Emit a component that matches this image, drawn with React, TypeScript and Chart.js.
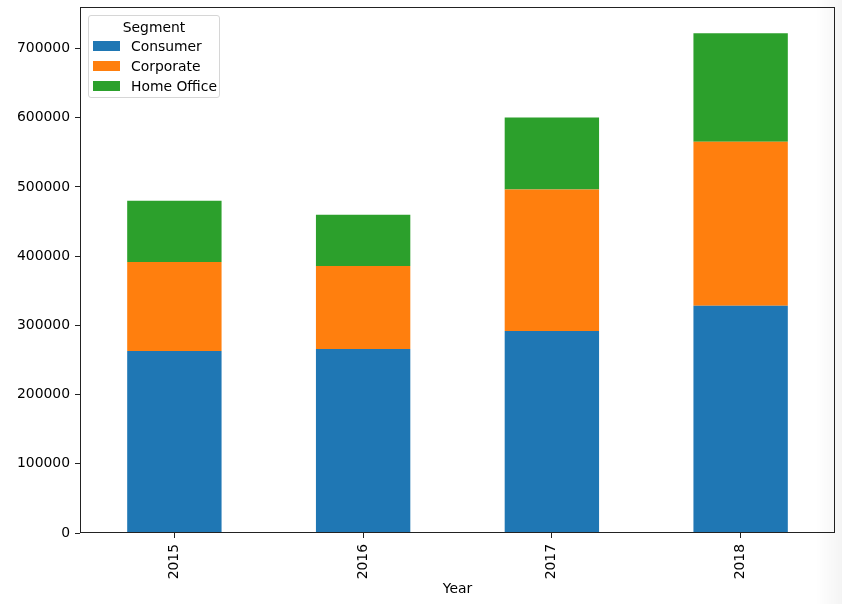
import React, { useEffect, useRef } from "react";
import { Chart, registerables } from "chart.js";

Chart.register(...registerables);

const years = ["2015", "2016", "2017", "2018"];
const segmentNames = ["Consumer", "Corporate", "Home Office"];
const consumer = [262800, 265700, 291700, 328400];
const corporate = [128800, 120100, 204600, 237000];
const homeOffice = [88300, 73900, 103900, 156700];
const segmentColors = ["#1f77b4", "#ff7f0e", "#2ca02c"];
const yTicks = [0, 100000, 200000, 300000, 400000, 500000, 600000, 700000];
const yMax = 760000;
const legendTitle = "Segment";
const xTitle = "Year";

const FONT = "'DejaVu Sans', sans-serif";
const FS = 13.9;

const framePlugin = {
  id: "frame",
  afterDatasetsDraw(chart: any) {
    const { ctx, chartArea } = chart;
    ctx.save();
    ctx.strokeStyle = "#222";
    ctx.lineWidth = 1;
    ctx.strokeRect(
      chartArea.left + 0.5,
      chartArea.top + 0.5,
      chartArea.right - chartArea.left - 1,
      chartArea.bottom - chartArea.top - 1
    );
    ctx.restore();
  },
};

export default function App() {
  const ref = useRef<HTMLCanvasElement | null>(null);

  useEffect(() => {
    if (!ref.current) return;
    const series = [consumer, corporate, homeOffice];
    const chart = new Chart(ref.current, {
      type: "bar",
      data: {
        labels: years,
        datasets: series.map((d, i) => ({
          label: segmentNames[i],
          data: d,
          backgroundColor: segmentColors[i],
          borderWidth: 0,
          categoryPercentage: 1,
          barPercentage: 0.5,
        })),
      },
      options: {
        responsive: false,
        animation: false,
        devicePixelRatio: 1,
        layout: { padding: { left: 0, top: 7, right: 7, bottom: 0 } },
        plugins: {
          legend: { display: false },
          tooltip: { enabled: false },
          title: { display: false },
        },
        scales: {
          x: {
            stacked: true,
            offset: true,
            border: { display: false },
            grid: {
              offset: false,
              drawOnChartArea: false,
              drawTicks: true,
              tickLength: 5,
              color: "#222",
              lineWidth: 1,
            },
            ticks: {
              minRotation: 90,
              maxRotation: 90,
              padding: 6,
              color: "#000",
              font: { family: FONT, size: FS },
            },
            title: {
              display: true,
              text: xTitle,
              color: "#000",
              font: { family: FONT, size: FS },
              padding: { top: 0, bottom: 6 },
            },
            afterFit(scale: any) {
              scale.height = 71;
              scale.paddingLeft = 0;
              scale.paddingRight = 0;
            },
          },
          y: {
            stacked: true,
            min: 0,
            max: yMax,
            border: { display: false },
            grid: {
              drawOnChartArea: false,
              drawTicks: true,
              tickLength: 5,
              color: "#222",
              lineWidth: 1,
            },
            ticks: {
              stepSize: 100000,
              padding: 5,
              color: "#000",
              font: { family: FONT, size: FS },
              callback: (v: any) => String(v),
            },
            afterBuildTicks(scale: any) {
              scale.ticks = yTicks.map((v) => ({ value: v }));
            },
            afterFit(scale: any) {
              scale.width = 80;
              scale.paddingTop = 0;
              scale.paddingBottom = 0;
            },
          },
        },
      },
      plugins: [framePlugin],
    } as any);
    return () => chart.destroy();
  }, []);

  return (
    <div style={{ position: "absolute", left: 0, top: 0, width: 842, height: 604, background: "#fff", overflow: "hidden" }}>
      <canvas ref={ref} width={842} height={604} style={{ width: 842, height: 604, display: "block" }} />
      <div
        style={{
          position: "absolute",
          left: 88,
          top: 15,
          width: 130,
          height: 81,
          border: "1px solid #d6d6d6",
          borderRadius: 3,
          background: "rgba(255,255,255,0.8)",
          fontFamily: FONT,
          fontSize: FS,
          color: "#000",
        }}
      >
        <div style={{ position: "absolute", left: 0, width: 130, top: 3, lineHeight: "16px", textAlign: "center" }}>
          {legendTitle}
        </div>
        {segmentNames.map((name, i) => (
          <div key={name}>
            <div
              style={{
                position: "absolute",
                left: 4,
                top: 25 + i * 20,
                width: 27,
                height: 10,
                background: segmentColors[i],
              }}
            />
            <div style={{ position: "absolute", left: 42, top: 22 + i * 20, lineHeight: "16px", whiteSpace: "nowrap" }}>
              {name}
            </div>
          </div>
        ))}
      </div>
      <div
        style={{
          position: "absolute",
          left: 816,
          top: 0,
          width: 26,
          height: 604,
          background: "linear-gradient(to right, rgba(0,0,0,0), rgba(0,0,0,0.045))",
          pointerEvents: "none",
        }}
      />
    </div>
  );
}
